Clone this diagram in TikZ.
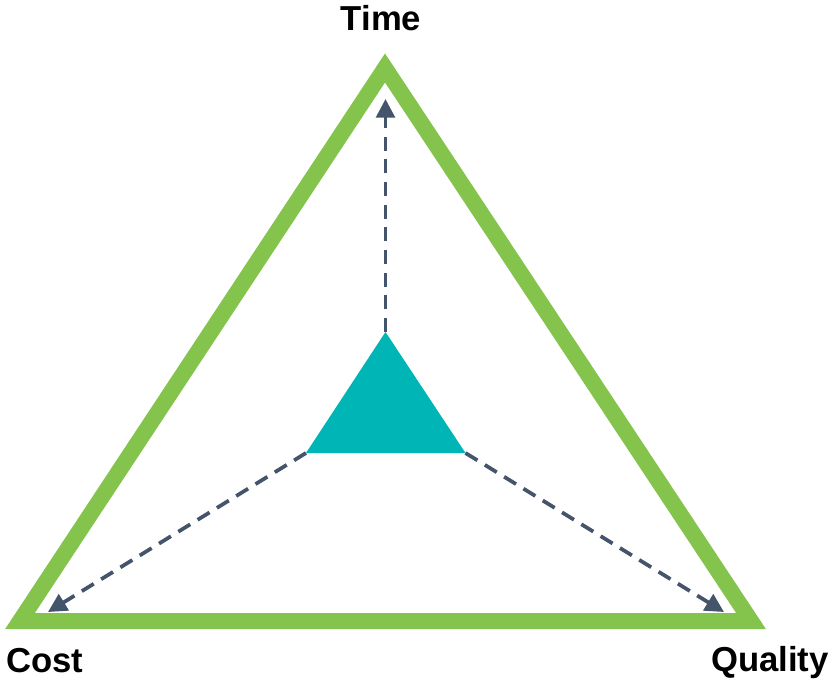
\documentclass[tikz,border=0pt]{standalone}
\usepackage{fontspec}
\setmainfont{Liberation Sans}
\usetikzlibrary{arrows.meta, positioning, calc}

\definecolor{frameGreen}{HTML}{84C44D}
\definecolor{coreTeal}{HTML}{00B5B5}
\definecolor{arrowSlate}{HTML}{44546A}

\begin{document}
\begin{tikzpicture}[x=0.75pt, y=-0.75pt,
    label/.style={font=\fontsize{26}{30}\selectfont\bfseries, inner sep=0pt},
    pull/.style={draw=arrowSlate, line width=2.8pt, dash pattern=on 10.5pt off 6.5pt,
        -{Triangle[length=14pt, width=14pt]}}]
    \useasboundingbox (0, 0) rectangle (831, 678);

    % outer triangle
    \coordinate (t) at (385, 68);
    \coordinate (l) at (20, 621);
    \coordinate (r) at (751, 621);
    \draw[frameGreen, line width=12pt, line join=miter] (t) -- (l) -- (r) -- cycle;

    % inner triangle
    \coordinate (it) at (385.5, 332);
    \coordinate (il) at (306, 453);
    \coordinate (ir) at (465.5, 453);
    \fill[coreTeal] (it) -- (il) -- (ir) -- cycle;

    % arrow ends
    \coordinate (et) at (385.5, 99);
    \coordinate (el) at (48, 612);
    \coordinate (er) at (724, 612);

    \draw[pull] (it) -- (et);
    \draw[pull] (il) -- (el);
    \draw[pull] (ir) -- (er);

    % labels
    \node[label, anchor=base] (time) at (381, 30) {Time};
    \node[label, anchor=base west] (cost) at (6, 672) {Cost};
    \node[label, anchor=base east] (quality) at (829, 671) {Quality};
\end{tikzpicture}
\end{document}
